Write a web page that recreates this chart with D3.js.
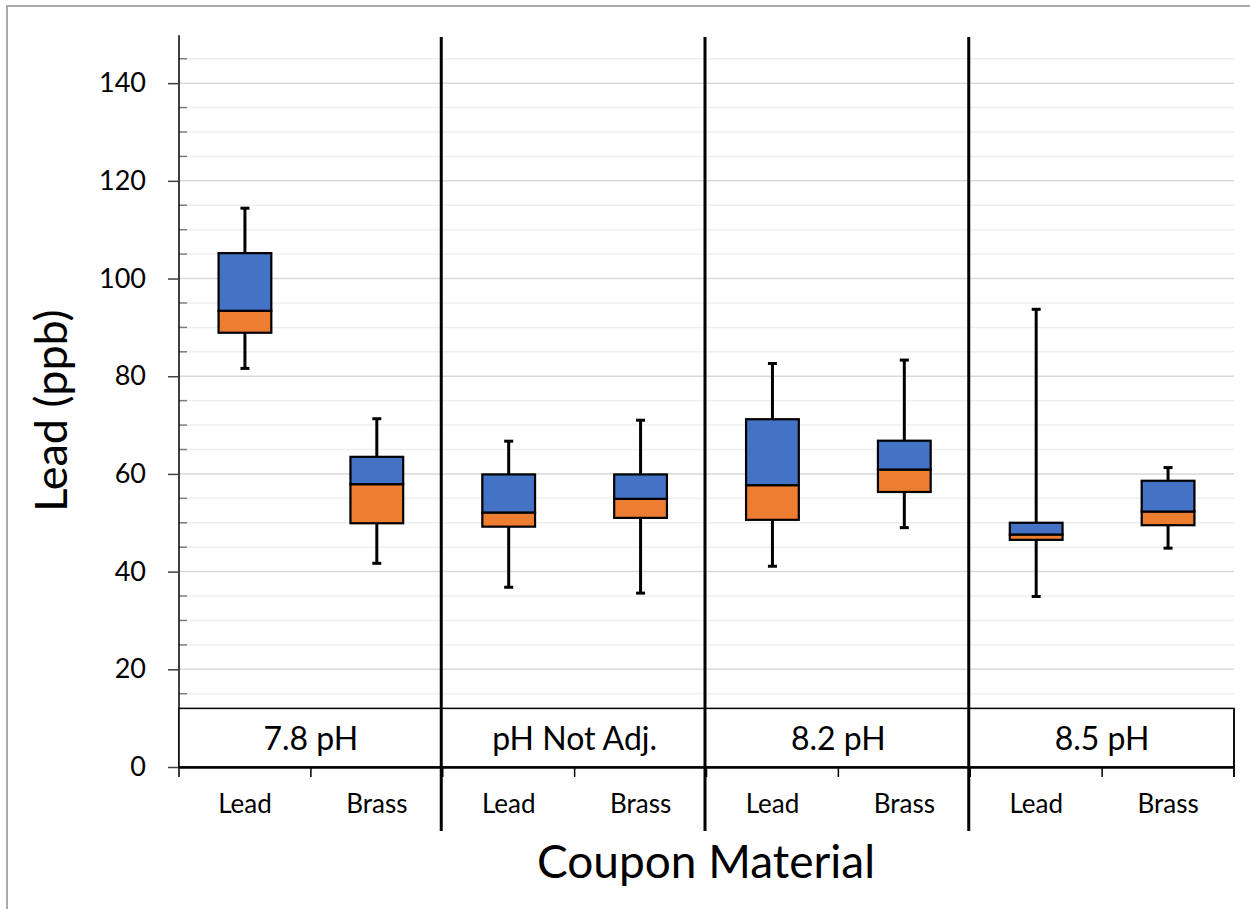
<!DOCTYPE html>
<html>
<head>
<meta charset="utf-8">
<script src="https://cdn.jsdelivr.net/npm/d3@7"></script>
<style>
  html, body { margin: 0; padding: 0; background: #fff; }
  svg { display: block; }
  text { font-family: Lato, "Open Sans", sans-serif; fill: #000; }
</style>
</head>
<body>
<script>
// ---- data ----
const groups = ["7.8 pH", "pH Not Adj.", "8.2 pH", "8.5 pH"];
const materials = ["Lead", "Brass"];
const whiskerMin = [81.6, 41.7, 36.8, 35.6, 41.1, 49.0, 34.9, 44.8];
const q1         = [88.9, 49.9, 49.2, 51.0, 50.6, 56.3, 46.5, 49.5];
const median     = [93.4, 57.9, 52.1, 54.9, 57.7, 60.9, 47.6, 52.3];
const q3         = [105.2, 63.5, 59.9, 59.9, 71.2, 66.8, 50.0, 58.6];
const whiskerMax = [114.4, 71.3, 66.7, 71.0, 82.6, 83.3, 93.7, 61.3];
const yMajorTicks = [0, 20, 40, 60, 80, 100, 120, 140];
const yTitle = "Lead (ppb)";
const xTitle = "Coupon Material";
const labelBoxTop = 12;

// ---- build ----
const W = 1250, H = 909;
const svg = d3.select("body").append("svg").attr("width", W).attr("height", H);
svg.append("rect").attr("width", W).attr("height", H).attr("fill", "#fff");
// outer chart frame
svg.append("rect").attr("x", 7).attr("y", 6).attr("width", 1400).attr("height", 1200)
  .attr("fill", "none").attr("stroke", "#8f8f8f").attr("stroke-width", 1.5);

const keys = [];
groups.forEach((g, gi) => materials.forEach((m, mi) => keys.push(gi + "|" + m)));
const rows = keys.map((k, i) => ({
  key: k, group: groups[+k.split("|")[0]], material: k.split("|")[1],
  lo: whiskerMin[i], q1: q1[i], med: median[i], q3: q3[i], hi: whiskerMax[i]
}));

const x0 = 179, x1 = 1234;
const x = d3.scaleBand().domain(keys).range([x0, x1]).padding(0);
const y = d3.scaleLinear().domain([0, 150]).range([767, 34.3]);

// gridlines
const minor = d3.range(5, 150, 5).filter(v => v % 20 !== 0);
svg.append("g").selectAll("line").data(minor).join("line")
  .attr("x1", x0).attr("x2", x1).attr("y1", d => y(d)).attr("y2", d => y(d))
  .attr("stroke", "#efefef").attr("stroke-width", 1.5);
svg.append("g").selectAll("line").data(yMajorTicks.filter(v => v > 0)).join("line")
  .attr("x1", x0).attr("x2", x1).attr("y1", d => y(d)).attr("y2", d => y(d))
  .attr("stroke", "#d9d9d9").attr("stroke-width", 1.5);

// minor ticks (inside)
svg.append("g").selectAll("line").data(minor).join("line")
  .attr("x1", x0).attr("x2", x0 + 8).attr("y1", d => y(d)).attr("y2", d => y(d))
  .attr("stroke", "#7f7f7f").attr("stroke-width", 1.5);

// y axis
const yAxis = d3.axisLeft(y).tickValues(yMajorTicks).tickSize(11).tickPadding(22).tickSizeOuter(0);
const gy = svg.append("g").attr("transform", `translate(${x0},0)`).call(yAxis);
gy.select(".domain").attr("stroke", "#000").attr("stroke-width", 1.5)
  .attr("d", `M0,${y(150) + 1}V${y(0)}`);
gy.selectAll(".tick line").attr("stroke", "#404040").attr("stroke-width", 1.5);
gy.selectAll(".tick text").attr("font-size", 27).attr("font-family", "Lato, sans-serif").attr("fill", "#000");

// category label box
svg.append("rect").attr("x", x0).attr("y", y(labelBoxTop)).attr("width", x1 - x0)
  .attr("height", y(0) - y(labelBoxTop)).attr("fill", "#fff").attr("stroke", "#000").attr("stroke-width", 1.5);
groups.forEach((g, gi) => {
  const a = x(gi + "|Lead"), b = x(gi + "|Brass") + x.bandwidth();
  svg.append("text").attr("x", (a + b) / 2).attr("y", (y(labelBoxTop) + y(0)) / 2)
    .attr("text-anchor", "middle").attr("dominant-baseline", "central")
    .attr("font-size", 32).text(g);
});

// x axis
const xAxis = d3.axisBottom(x).tickSize(0).tickPadding(28).tickFormat(k => k.split("|")[1]);
const gx = svg.append("g").attr("transform", `translate(0,${y(0)})`).call(xAxis);
gx.select(".domain").attr("stroke", "#000").attr("stroke-width", 2.5);
gx.selectAll(".tick text").attr("font-size", 26).attr("font-family", "Lato, sans-serif").attr("fill", "#000");
const bounds = keys.map(k => x(k)).concat([x1]);
svg.append("g").selectAll("line").data(bounds).join("line")
  .attr("x1", d => d).attr("x2", d => d).attr("y1", y(0)).attr("y2", y(0) + 10)
  .attr("stroke", "#000").attr("stroke-width", 1.5);
svg.append("line").attr("x1", x1).attr("x2", x1).attr("y1", y(labelBoxTop)).attr("y2", y(0) + 10)
  .attr("stroke", "#000").attr("stroke-width", 1.5);

// group dividers
const dividers = groups.slice(1).map((g, i) => x((i + 1) + "|Lead"));
svg.append("g").selectAll("line").data(dividers).join("line")
  .attr("x1", d => d - 1.5).attr("x2", d => d - 1.5).attr("y1", 37).attr("y2", 831)
  .attr("stroke", "#000").attr("stroke-width", 3);

// boxes
const bw = x.bandwidth() * 0.4;
const capW = 9;
const gb = svg.append("g").selectAll("g").data(rows).join("g")
  .attr("transform", d => `translate(${x(d.key) + x.bandwidth() / 2},0)`);
gb.append("line").attr("x1", 0).attr("x2", 0).attr("y1", d => y(d.hi)).attr("y2", d => y(d.lo))
  .attr("stroke", "#000").attr("stroke-width", 3);
gb.append("line").attr("x1", -capW / 2).attr("x2", capW / 2).attr("y1", d => y(d.hi)).attr("y2", d => y(d.hi))
  .attr("stroke", "#000").attr("stroke-width", 3);
gb.append("line").attr("x1", -capW / 2).attr("x2", capW / 2).attr("y1", d => y(d.lo)).attr("y2", d => y(d.lo))
  .attr("stroke", "#000").attr("stroke-width", 3);
gb.append("rect").attr("x", -bw / 2).attr("width", bw)
  .attr("y", d => y(d.med)).attr("height", d => y(d.q1) - y(d.med))
  .attr("fill", "#ED7D31").attr("stroke", "#000").attr("stroke-width", 2.2);
gb.append("rect").attr("x", -bw / 2).attr("width", bw)
  .attr("y", d => y(d.q3)).attr("height", d => y(d.med) - y(d.q3))
  .attr("fill", "#4472C4").attr("stroke", "#000").attr("stroke-width", 2.2);

// titles
svg.append("text").attr("transform", `translate(50,${(y(0) + y(150)) / 2 + 10}) rotate(-90)`)
  .attr("text-anchor", "middle").attr("dominant-baseline", "central")
  .attr("font-size", 45).text(yTitle);
svg.append("text").attr("x", 706).attr("y", 860)
  .attr("text-anchor", "middle").attr("dominant-baseline", "central")
  .attr("font-size", 46).text(xTitle);
</script>
</body>
</html>
